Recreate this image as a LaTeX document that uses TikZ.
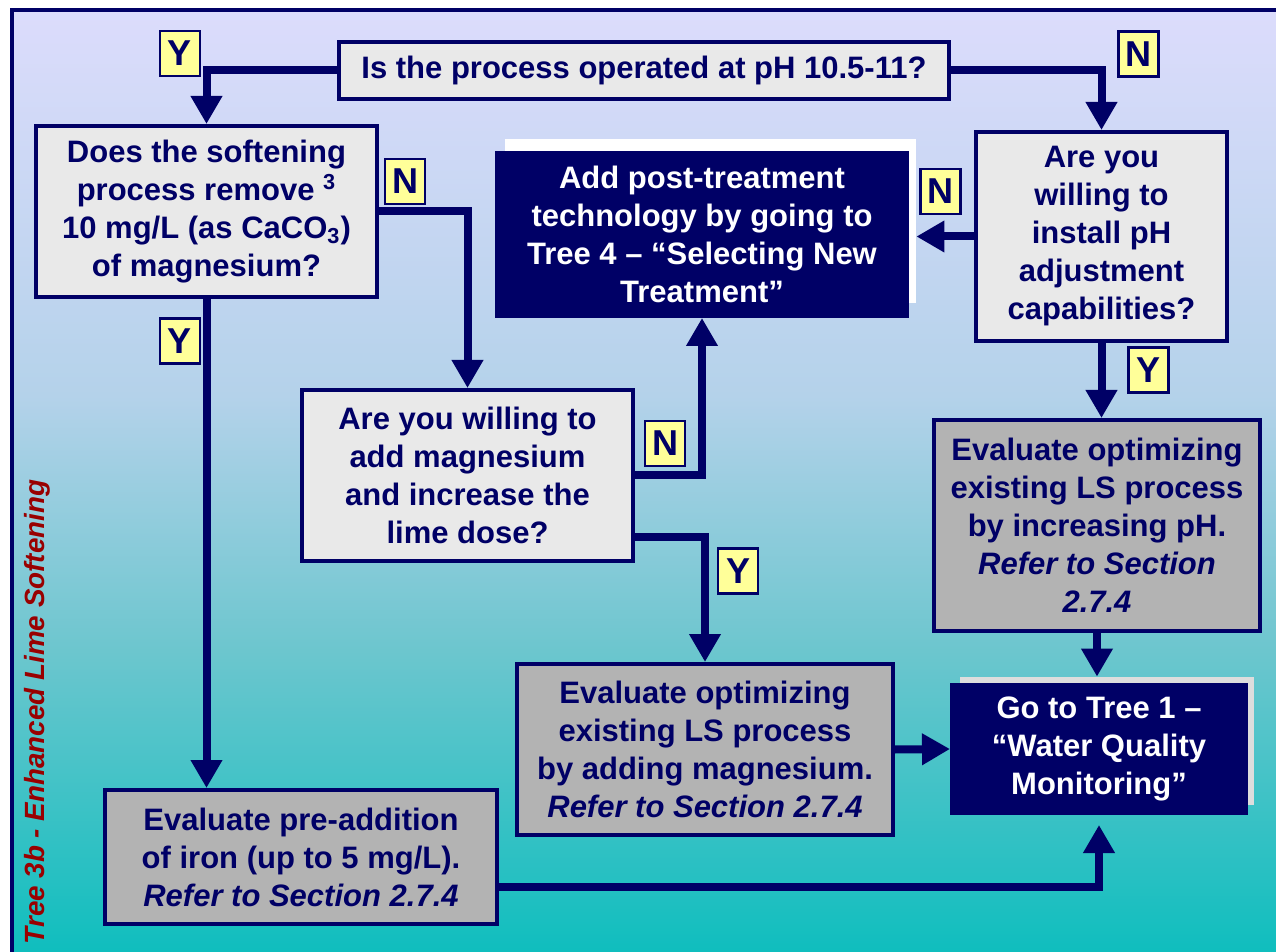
\documentclass[tikz,border=0pt]{standalone}
\usepackage{fontspec}
\setmainfont{Liberation Sans}
\usetikzlibrary{arrows.meta,calc}

\definecolor{navy}{HTML}{000066}
\definecolor{qgray}{HTML}{E9E9E9}
\definecolor{egray}{HTML}{B3B3B3}
\definecolor{ynyellow}{HTML}{FFFF99}
\definecolor{titlered}{HTML}{990000}
\definecolor{shadowgray}{HTML}{DDDDDD}
\definecolor{bgteal}{HTML}{0FBEBE}
\definecolor{bgmid}{HTML}{6CC6CE}
\definecolor{bgsky}{HTML}{B4D2EA}
\definecolor{bglav}{HTML}{DCDCFC}
\pgfdeclareverticalshading{bgshade}{100bp}{color(0bp)=(bgteal); color(25bp)=(bgteal); color(41bp)=(bgmid); color(54.5bp)=(bgsky); color(75bp)=(bglav); color(100bp)=(bglav)}

\newcommand\flowfont{\fontsize{15.5}{19}\selectfont\bfseries}
\newcommand\ynfont{\fontsize{18}{20}\selectfont\bfseries}

\begin{document}
\begin{tikzpicture}[x=0.5pt,y=-0.5pt,
    box/.style={draw=navy, line width=2pt, inner sep=0pt, align=center, text=navy, font=\flowfont},
    qbox/.style={box, fill=qgray},
    evbox/.style={box, fill=egray},
    gobox/.style={box, fill=navy, text=white},
    yn/.style={draw=navy, line width=1.2pt, fill=ynyellow, text=navy, font=\ynfont, inner sep=0pt, minimum width=20pt, minimum height=22.5pt},
    flow/.style={draw=navy, line width=4pt, line join=miter, -{Triangle[width=15pt,length=14pt]}}]
\useasboundingbox (0,0) rectangle (1276,952);
\clip (0,0) rectangle (1276,952);

% background frame
\fill[white] (0,0) rectangle (1276,952);
\shade[shading=bgshade] (12,10) rectangle (1276,952);
\draw[navy, line width=2pt] (12,10) rectangle (1300,980);

% side title
\node[rotate=90, text=titlered, font=\fontsize{13.9}{16}\selectfont\bfseries\itshape] (title) at (37,712) {Tree 3b - Enhanced Lime Softening};

% shadows behind the navy boxes
\node[fill=white, inner sep=0pt, minimum width=205.5pt, minimum height=82pt] (postbg) at (710.5,221) {};
\node[fill=shadowgray, inner sep=0pt, minimum width=147pt, minimum height=64pt] (t1bg) at (1107,741) {};

% questions
\node[qbox, minimum width=305pt, minimum height=28.5pt] (q1) at (644,70.5) {Is the process operated at pH 10.5-11?};
\node[qbox, minimum width=170.5pt, minimum height=85.5pt] (q2) at (206.5,211.5) {Does the softening\\process remove \textsuperscript{3}\\10 mg/L (as CaCO\textsubscript{3})\\of magnesium?};
\node[qbox, minimum width=165.5pt, minimum height=85.5pt] (q3) at (467.5,475.5) {Are you willing to\\add magnesium\\and increase the\\lime dose?};
\node[qbox, minimum width=125.5pt, minimum height=104.5pt] (q4) at (1101.5,236.5) {Are you\\willing to\\install pH\\adjustment\\capabilities?};

% outcomes
\node[gobox, minimum width=205pt, minimum height=81.5pt] (post) at (702,234.5) {Add post-treatment\\technology by going to\\Tree 4 -- “Selecting New\\Treatment”};
\node[evbox, minimum width=163pt, minimum height=105.5pt] (ev5) at (1097,525.5) {Evaluate optimizing\\existing LS process\\by increasing pH.\\\textit{Refer to Section}\\\textit{2.7.4}};
\node[evbox, minimum width=188pt, minimum height=85.5pt] (ev6) at (705,749.5) {Evaluate optimizing\\existing LS process\\by adding magnesium.\\\textit{Refer to Section 2.7.4}};
\node[evbox, minimum width=196pt, minimum height=67pt] (ev7) at (301,857) {Evaluate pre-addition\\of iron (up to 5 mg/L).\\\textit{Refer to Section 2.7.4}};
\node[gobox, minimum width=147pt, minimum height=64pt] (tree1) at (1099,749) {Go to Tree 1 --\\“Water Quality\\Monitoring”};

% connectors
\draw[flow] (q1.west) -| (q2.north);
\draw[flow] (q1.east) -| (q4.north);
\draw[flow] (q2.east) -| (q3.north);
\draw[flow] (q2.south) -- (q2.south |- ev7.north);
\draw[flow] (q3.east) -| (post.south);
\draw[flow] ($(q3.east)+(0,62)$) -| (ev6.north);
\draw[flow] (q4.west) -- (q4.west -| postbg.east);
\draw[flow] (q4.south) -- (q4.south |- ev5.north);
\draw[flow] (ev5.south) -- (ev5.south |- t1bg.north);
\draw[flow] (ev6.east) -- (tree1.west);
\draw[flow, shorten >=5pt] ($(ev7.east)+(0,30)$) -| (tree1.south);

% yes / no labels
\node[yn] (y1) at (180,53.5) {Y};
\node[yn] (n1) at (1138.5,54) {N};
\node[yn] (n2) at (405,181.5) {N};
\node[yn] (n3) at (940.5,191.5) {N};
\node[yn] (y2) at (180,341) {Y};
\node[yn] (n4) at (665,443.5) {N};
\node[yn] (y3) at (738,571) {Y};
\node[yn] (y4) at (1148.5,370) {Y};
\end{tikzpicture}
\end{document}
